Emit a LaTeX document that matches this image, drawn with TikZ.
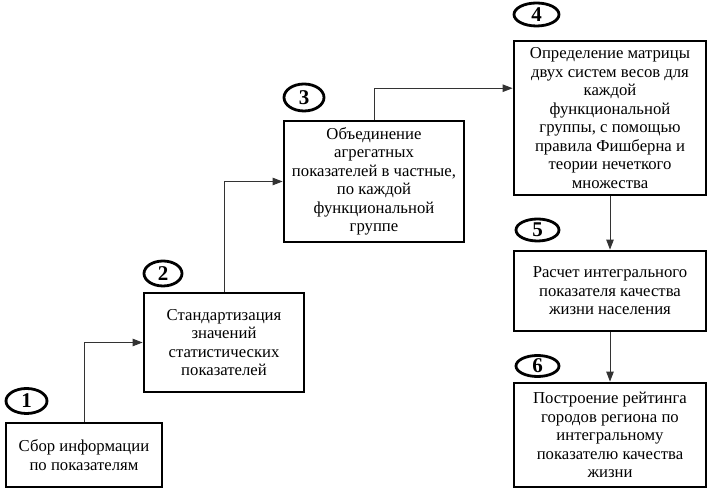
\documentclass[tikz,border=0pt]{standalone}
\usepackage{fontspec}
\setmainfont{Liberation Serif}
\usetikzlibrary{arrows.meta,shapes.geometric}
\begin{document}
\begin{tikzpicture}[
            x=1pt, y=1pt,
            stagebox/.style={draw, line width=2.8pt, align=center, font=\fontsize{16.7}{18.5}\selectfont},
            stagenum/.style={draw, ellipse, line width=2.8pt, inner sep=0pt, font=\fontsize{21}{21}\selectfont\bfseries},
            flow/.style={draw=black!80, line width=0.9pt, -{Triangle[length=10pt,width=7.5pt]}}
        ]
        \useasboundingbox (0,0) rectangle (709,492);
        % steps
        \node[stagebox, minimum width=156pt, minimum height=64pt] (b1) at (84,37)
            {Сбор информации\\по показателям};
        \node[stagebox, minimum width=160pt, minimum height=99pt] (b2) at (224,149.5)
            {Стандартизация\\значений\\статистических\\показателей};
        \node[stagebox, minimum width=180pt, minimum height=121pt] (b3) at (374,310.5)
            {Объединение\\агрегатных\\показателей в частные,\\по каждой\\функциональной\\группе};
        \node[stagebox, minimum width=192pt, minimum height=154pt] (b4) at (610,374)
            {Определение матрицы\\двух систем весов для\\каждой\\функциональной\\группы, с помощью\\правила Фишберна и\\теории нечеткого\\множества};
        \node[stagebox, minimum width=192pt, minimum height=80pt] (b5) at (610,201)
            {Расчет интегрального\\показателя качества\\жизни населения};
        \node[stagebox, minimum width=192pt, minimum height=104pt] (b6) at (610,57)
            {Построение рейтинга\\городов региона по\\интегральному\\показателю качества\\жизни};
        % numbers
        \node[stagenum, minimum width=41pt, minimum height=25pt] (n1) at (26.5,91) {1};
        \node[stagenum, minimum width=38pt, minimum height=25pt] (n2) at (163,218.5) {2};
        \node[stagenum, minimum width=40pt, minimum height=27pt] (n3) at (304,394.5) {3};
        \node[stagenum, minimum width=45pt, minimum height=23pt] (n4) at (536.5,477.5) {4};
        \node[stagenum, minimum width=43pt, minimum height=22pt] (n5) at (537.5,262) {5};
        \node[stagenum, minimum width=43pt, minimum height=21pt] (n6) at (537.5,126) {6};
        % connectors
        \draw[flow] (b1.north) |- (b2.west);
        \draw[flow] (b2.north) |- (b3.west);
        \draw[flow] (b3.north) |- (b4.163);
        \draw[flow] (b4.south) -- (b5.north);
        \draw[flow] (b5.south) -- (b6.north);
    \end{tikzpicture}
\end{document}
